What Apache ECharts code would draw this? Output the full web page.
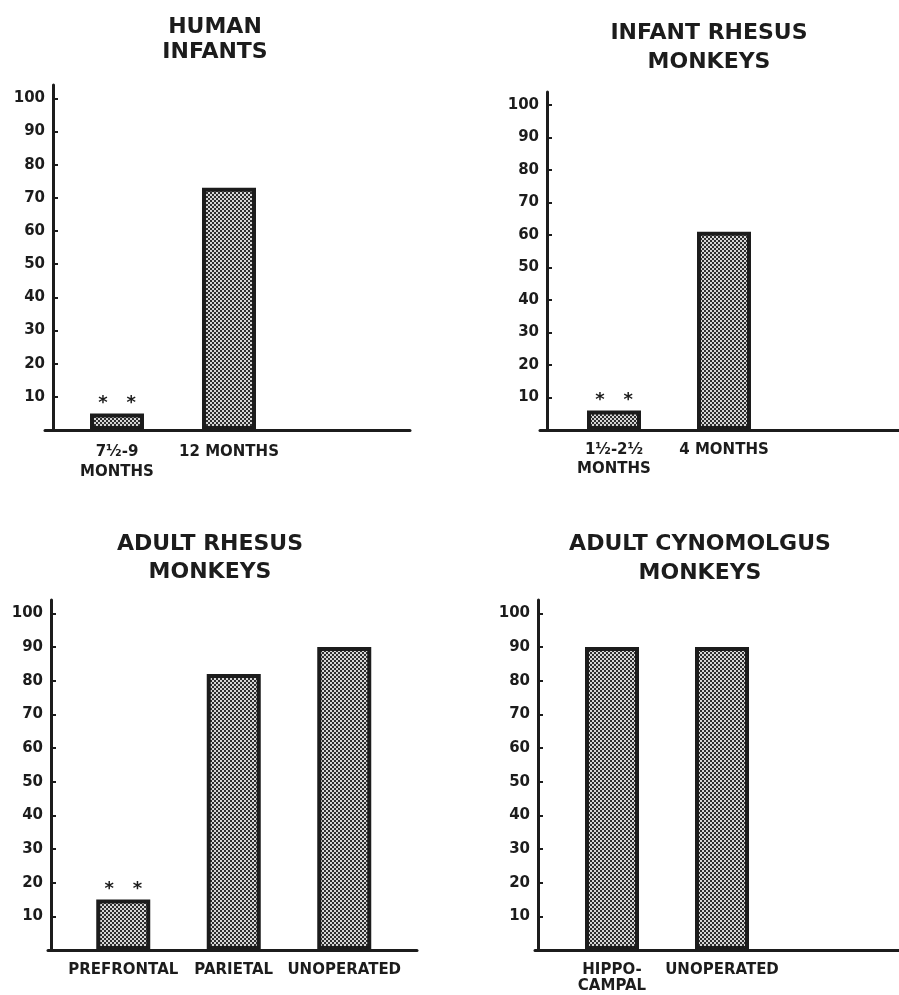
<!DOCTYPE html>
<html>
<head>
<meta charset="utf-8">
<script src="https://cdn.jsdelivr.net/npm/echarts@6/dist/echarts.min.js"></script>
<style>
  html, body { margin: 0; padding: 0; background: #ffffff; }
  #chart { width: 899px; height: 995px; }
</style>
</head>
<body>
<div id="chart"></div>
<script>
// Percent correct on the delayed-response task, four subject groups
const humanTitle = 'HUMAN\nINFANTS';
const humanCats = ['7½-9\nMONTHS', '12 MONTHS'];
const humanVals = [5, 73];
const humanStars = [true, false];

const infantRhesusTitle = 'INFANT RHESUS\nMONKEYS';
const infantRhesusCats = ['1½-2½\nMONTHS', '4 MONTHS'];
const infantRhesusVals = [6, 61];
const infantRhesusStars = [true, false];

const adultRhesusTitle = 'ADULT RHESUS\nMONKEYS';
const adultRhesusCats = ['PREFRONTAL', 'PARIETAL', 'UNOPERATED'];
const adultRhesusVals = [15, 82, 90];
const adultRhesusStars = [true, false, false];

const cynoTitle = 'ADULT CYNOMOLGUS\nMONKEYS';
const cynoCats = ['HIPPO-\nCAMPAL', 'UNOPERATED'];
const cynoVals = [90, 90];
const cynoStars = [false, false];

const yTickValues = [10, 20, 30, 40, 50, 60, 70, 80, 90, 100];
const starMark = '*   *';

// stippled fill used for every bar
function stipple() {
  const c = document.createElement('canvas');
  c.width = 4; c.height = 4;
  const g = c.getContext('2d');
  g.fillStyle = '#2e2e2e';
  g.fillRect(0, 0, 4, 4);
  g.fillStyle = '#d6d6d6';
  g.fillRect(0, 0, 2, 2);
  g.fillRect(2, 2, 2, 2);
  return c;
}
const barFill = { image: stipple(), repeat: 'repeat' };

const INK = '#1c1c1c';
const FONT = 'DejaVu Sans';

// panel geometry: frame = axes box, bars = category band area
const panels = [
  { title: humanTitle, cats: humanCats, vals: humanVals, stars: humanStars,
    titleX: 215, titleTop: 15, titleLH: 25,
    frame: { left: 45, right: 489, top: 85, bottom: 565 }, yOff: -8,
    bars: { left: 61, right: 614, top: 85, bottom: 565 }, labLH: 20, labMargin: 12 },
  { title: infantRhesusTitle, cats: infantRhesusCats, vals: infantRhesusVals, stars: infantRhesusStars,
    titleX: 709, titleTop: 19, titleLH: 29,
    frame: { left: 540, right: 0, top: 92, bottom: 565 }, yOff: -7,
    bars: { left: 559, right: 120, top: 92, bottom: 565 }, labLH: 19, labMargin: 11 },
  { title: adultRhesusTitle, cats: adultRhesusCats, vals: adultRhesusVals, stars: adultRhesusStars,
    titleX: 210, titleTop: 530, titleLH: 28,
    frame: { left: 48, right: 482, top: 600, bottom: 45 }, yOff: -3,
    bars: { left: 68, right: 499.5, top: 600, bottom: 45 }, labLH: 20, labMargin: 10 },
  { title: cynoTitle, cats: cynoCats, vals: cynoVals, stars: cynoStars,
    titleX: 700, titleTop: 530, titleLH: 29,
    frame: { left: 535, right: 0, top: 600, bottom: 45 }, yOff: -3,
    bars: { left: 557, right: 122, top: 600, bottom: 45 }, labLH: 16, labMargin: 12 }
];

const option = {
  backgroundColor: '#ffffff',
  animation: false,
  title: [], grid: [], xAxis: [], yAxis: [], series: []
};

panels.forEach((p) => {
  option.title.push({
    text: p.title, left: p.titleX, top: p.titleTop, textAlign: 'center', padding: 0,
    textStyle: { fontFamily: FONT, fontWeight: 'bold', fontSize: 22, color: INK, lineHeight: p.titleLH }
  });
  const fg = option.grid.length;
  option.grid.push(Object.assign({ containLabel: false }, p.frame));
  const bg = option.grid.length;
  option.grid.push(Object.assign({ containLabel: false }, p.bars));

  // frame axes
  option.xAxis.push({
    gridIndex: fg, type: 'value', min: 0, max: 1,
    axisLine: { show: true, onZero: false, lineStyle: { color: INK, width: 3 } },
    axisTick: { show: false }, axisLabel: { show: false }, splitLine: { show: false }
  });
  option.yAxis.push({
    gridIndex: fg, type: 'value', min: 0, max: 104, offset: p.yOff,
    axisLine: { show: true, onZero: false, lineStyle: { color: INK, width: 3 } },
    axisTick: { show: true, inside: true, length: 5, customValues: yTickValues,
                lineStyle: { color: INK, width: 2 } },
    axisLabel: { show: true, customValues: yTickValues, margin: 8,
                 fontFamily: FONT, fontWeight: 'bold', fontSize: 15, color: INK },
    splitLine: { show: false }
  });

  // bar axes
  const bx = option.xAxis.length;
  option.xAxis.push({
    gridIndex: bg, type: 'category', data: p.cats,
    axisLine: { show: false }, axisTick: { show: false }, splitLine: { show: false },
    axisLabel: { interval: 0, margin: p.labMargin, fontFamily: FONT, fontWeight: 'bold',
                 fontSize: 15, color: INK, lineHeight: p.labLH }
  });
  const by = option.yAxis.length;
  option.yAxis.push({ gridIndex: bg, type: 'value', min: 0, max: 104, show: false });

  option.series.push({
    type: 'bar', xAxisIndex: bx, yAxisIndex: by,
    data: p.vals.map((v, k) => ({ value: v, label: { show: p.stars[k] } })),
    barWidth: 54,
    itemStyle: { color: barFill, borderColor: INK, borderWidth: 4 },
    label: {
      position: 'top', distance: 1, formatter: () => starMark,
      fontFamily: FONT, fontWeight: 'bold', fontSize: 18, color: INK
    }
  });
});

const chart = echarts.init(document.getElementById('chart'), null, { renderer: 'canvas' });
chart.setOption(option);
</script>
</body>
</html>
